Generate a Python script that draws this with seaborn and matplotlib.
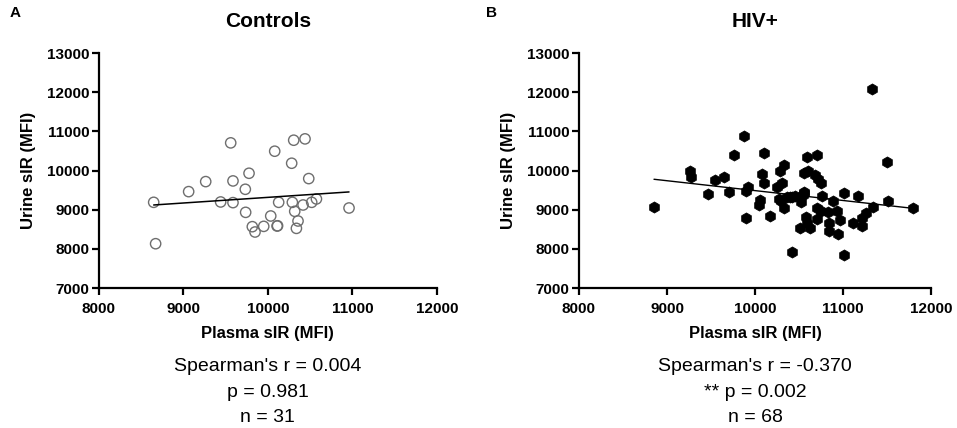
import numpy as np
import pandas as pd
import matplotlib.pyplot as plt
import seaborn as sns

# ==========================================
# DATOS
# ==========================================

# Controls (n = 31)
ctrl_plasma = [8648, 8671, 9062, 9264, 9441, 9560, 9587, 9587, 9733, 9777,
               9737, 9816, 9848, 9951, 10034, 10081, 10109, 10115, 10128, 10282,
               10306, 10290, 10318, 10357, 10338, 10440, 10417, 10484, 10519, 10575,
               10961]
ctrl_urine = [9189, 8132, 9462, 9718, 9198, 10707, 9735, 9181, 9522, 9931,
              8933, 8567, 8431, 8575, 8840, 10494, 8584, 8590, 9189, 10187,
              10775, 9189, 8959, 8712, 8524, 10809, 9121, 9795, 9189, 9275,
              9044]

# HIV+ (n = 68)
hiv_plasma = [8852, 9258, 9277, 9462, 9550, 9648, 9705, 9758, 9875, 9917,
              9902, 9902, 10076, 10107, 10107, 10053, 10039, 10175, 10281, 10330,
              10311, 10254, 10273, 10330, 10357,
              10557, 10600, 10686, 10716, 10754, 10557, 10545, 10459, 10394, 10527,
              10761, 10886, 11011, 10698, 10754, 10830, 10925, 10584, 10698, 10595,
              10838, 10970, 10508, 10622, 10838, 10943,
              11500, 11170, 11511, 11789, 11341, 11258, 11220, 11114, 11220,
              11333, 11011, 10424, 10595, 10705,
              10420, 10560, 10290]
hiv_urine = [9061, 9997, 9829, 9402, 9760, 9829, 9445, 10399, 10877, 9588,
             9486, 8796, 9913, 10450, 9693, 9248, 9120, 8839, 9997, 10143,
             9693, 9588, 9266, 9051, 9317,
             9947, 9990, 9888, 9778, 9675, 9460, 9376, 9350, 9333, 9205,
             9350, 9230, 9419, 9036, 8975, 8950, 8975, 8821, 8754, 8668,
             8668, 8750, 8524, 8524, 8463, 8379,
             10228, 9358, 9230, 9036, 9061, 8923, 8780, 8668, 8583,
             12088, 7835, 7928, 10356, 10399,
             9330, 9420, 9220]

stats_ctrl = ["Spearman's r = 0.004", "p = 0.981", "n = 31"]
stats_hiv = ["Spearman's r = -0.370", "** p = 0.002", "n = 68"]

df_ctrl = pd.DataFrame({"plasma": ctrl_plasma, "urine": ctrl_urine})
df_hiv = pd.DataFrame({"plasma": hiv_plasma, "urine": hiv_urine})

# ==========================================
# GRAFICO
# ==========================================

sns.set_style("ticks")
plt.rcParams["font.family"] = ["Liberation Sans", "DejaVu Sans"]
plt.rcParams["text.color"] = "black"
plt.rcParams["axes.labelcolor"] = "black"

fig = plt.figure(figsize=(9.57, 4.28), dpi=100)

ax1 = fig.add_axes([0.1034, 0.327, 0.353, 0.549])
ax2 = fig.add_axes([0.605, 0.327, 0.368, 0.549])

sns.scatterplot(
    data=df_ctrl, x="plasma", y="urine", ax=ax1,
    marker="o", s=55, facecolor="none", edgecolor="#6e6e6e", linewidth=1.0
)
sns.regplot(
    data=df_ctrl, x="plasma", y="urine", ax=ax1,
    scatter=False, ci=None, line_kws={"color": "black", "lw": 1.1}
)

sns.scatterplot(
    data=df_hiv, x="plasma", y="urine", ax=ax2,
    marker="h", s=65, color="black", edgecolor="black", linewidth=0.5
)
sns.regplot(
    data=df_hiv, x="plasma", y="urine", ax=ax2,
    scatter=False, ci=None, line_kws={"color": "black", "lw": 1.0}
)

for ax, titulo, letra, stats in [
    (ax1, "Controls", "A", stats_ctrl),
    (ax2, "HIV+", "B", stats_hiv),
]:
    ax.set_xlim(8000, 12000)
    ax.set_ylim(7000, 13000)
    ax.set_xticks(range(8000, 12001, 1000))
    ax.set_yticks(range(7000, 13001, 1000))
    for lado in ["top", "right"]:
        ax.spines[lado].set_visible(False)
    for lado in ["left", "bottom"]:
        ax.spines[lado].set_linewidth(1.6)
        ax.spines[lado].set_color("black")
    ax.tick_params(width=1.6, length=5, labelsize=11, colors="black")
    ax.tick_params(axis="x", pad=5)
    ax.tick_params(axis="y", pad=2)
    for lbl in ax.get_xticklabels() + ax.get_yticklabels():
        lbl.set_fontweight("bold")
    ax.set_xlabel("Plasma sIR (MFI)", fontsize=12, fontweight="bold", labelpad=7)
    ax.set_ylabel("Urine sIR (MFI)", fontsize=12, fontweight="bold", labelpad=8)
    ax.set_title(titulo, fontsize=15, fontweight="bold", pad=19, color="black")
    ax.text(-0.265, 1.17, letra, transform=ax.transAxes, color="black",
            fontsize=11, fontweight="bold", va="center", ha="left")
    for i, linea in enumerate(stats):
        ax.text(0.5, -0.336 - i * 0.107, linea, transform=ax.transAxes,
                fontsize=14, ha="center", va="center", color="black")

fig.savefig("out.png", dpi=100)
